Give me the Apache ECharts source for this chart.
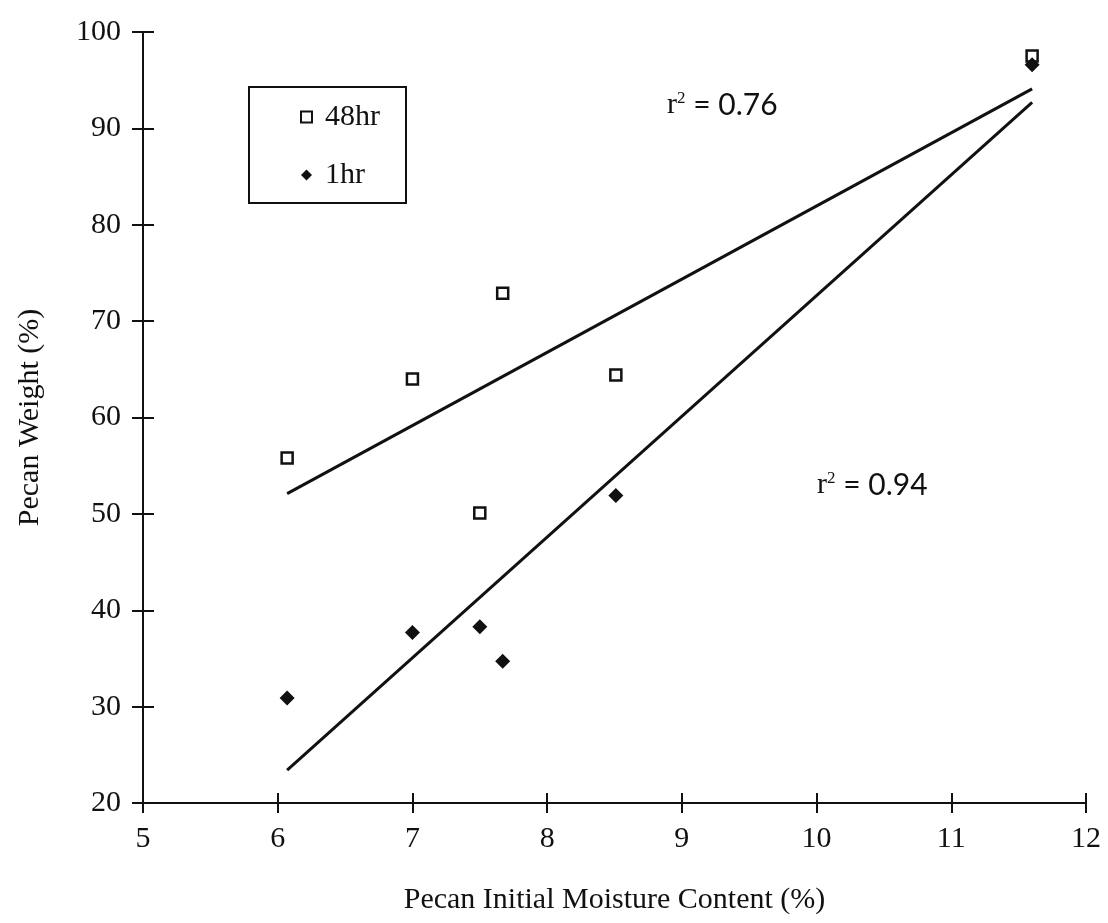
<!DOCTYPE html>
<html>
<head>
<meta charset="utf-8">
<script src="https://cdn.jsdelivr.net/npm/echarts@6/dist/echarts.min.js"></script>
<style>
  html, body { margin: 0; padding: 0; background: #fff; }
  #chart { width: 1108px; height: 923px; }
</style>
</head>
<body>
<div id="chart"></div>
<script>
// Pecan weight vs. initial moisture content
const moisture = [6.07, 7.0, 7.67, 7.5, 8.51, 11.6];
const weight48hr = [55.8, 64.0, 72.9, 50.1, 64.4, 97.5];
const weight1hr = [30.9, 37.7, 34.7, 38.3, 51.9, 96.6];

// Fitted line end points (x, y)
const fit48hr = [[6.07, 52.1], [11.6, 94.1]];
const fit1hr = [[6.07, 23.4], [11.6, 92.7]];

const r2Labels = ['0.76', '0.94'];
const seriesNames = ['48hr', '1hr'];

const serif = 'Liberation Serif, Times New Roman, serif';
const ink = '#111';

function pairs(xs, ys) { return xs.map((x, i) => [x, ys[i]]); }

const chart = echarts.init(document.getElementById('chart'), null, { renderer: 'canvas' });

const xCommon = { type: 'value', min: 5, max: 12, interval: 1, gridIndex: 0, position: 'bottom' };
const yCommon = { type: 'value', min: 20, max: 100, interval: 10, gridIndex: 0, position: 'left' };

function r2Text(val) {
  return '{r|r}{s|2}{e| = ' + val + '}';
}
const r2Rich = {
  r: { fontFamily: serif, fontSize: 30, fill: ink, color: ink },
  s: { fontFamily: serif, fontSize: 17, fill: ink, color: ink, verticalAlign: 'top' },
  e: { fontFamily: 'Lato, Open Sans, sans-serif', fontSize: 30, fill: ink, color: ink }
};

chart.setOption({
  backgroundColor: '#fff',
  animation: false,
  grid: { left: 143, right: 22, top: 32, bottom: 120, containLabel: false },
  xAxis: [
    Object.assign({}, xCommon, {
      name: 'Pecan Initial Moisture Content (%)',
      nameLocation: 'middle',
      nameGap: 82,
      nameTextStyle: { fontFamily: serif, fontSize: 30, color: ink },
      axisLine: { lineStyle: { color: ink, width: 2 } },
      axisTick: { inside: false, length: 10, lineStyle: { color: ink, width: 2 } },
      axisLabel: { margin: 21, fontFamily: serif, fontSize: 30, color: ink },
      splitLine: { show: false }
    }),
    Object.assign({}, xCommon, {
      axisLine: { show: false },
      axisTick: { inside: true, length: 10, lineStyle: { color: ink, width: 2 } },
      axisLabel: { show: false },
      splitLine: { show: false }
    })
  ],
  yAxis: [
    Object.assign({}, yCommon, {
      name: 'Pecan Weight (%)',
      nameLocation: 'middle',
      nameGap: 98,
      nameTextStyle: { fontFamily: serif, fontSize: 30, color: ink },
      axisLine: { lineStyle: { color: ink, width: 2 } },
      axisTick: { inside: false, length: 11, lineStyle: { color: ink, width: 2 } },
      axisLabel: { margin: 22, fontFamily: serif, fontSize: 30, color: ink },
      splitLine: { show: false }
    }),
    Object.assign({}, yCommon, {
      axisLine: { show: false },
      axisTick: { inside: true, length: 11, lineStyle: { color: ink, width: 2 } },
      axisLabel: { show: false },
      splitLine: { show: false }
    })
  ],
  legend: {
    data: seriesNames,
    orient: 'vertical',
    left: 300,
    top: 101,
    padding: 0,
    itemWidth: 11,
    itemHeight: 11,
    itemGap: 26,
    textStyle: { fontFamily: serif, fontSize: 30, color: ink, lineHeight: 32, padding: [0, 0, 0, 8] }
  },
  series: [
    {
      name: seriesNames[0] + ' fit',
      type: 'line',
      data: fit48hr,
      symbol: 'none',
      lineStyle: { color: ink, width: 3 },
      silent: true,
      z: 1
    },
    {
      name: seriesNames[1] + ' fit',
      type: 'line',
      data: fit1hr,
      symbol: 'none',
      lineStyle: { color: ink, width: 3 },
      silent: true,
      z: 1
    },
    {
      name: seriesNames[0],
      type: 'scatter',
      data: pairs(moisture, weight48hr),
      symbol: 'rect',
      symbolSize: 11,
      itemStyle: { color: '#fff', borderColor: ink, borderWidth: 2.5, opacity: 1 },
      z: 3
    },
    {
      name: seriesNames[1],
      type: 'scatter',
      data: pairs(moisture, weight1hr),
      symbol: 'diamond',
      symbolSize: 15,
      itemStyle: { color: ink, opacity: 1 },
      z: 4
    }
  ],
  graphic: [
    {
      type: 'rect',
      shape: { x: 249, y: 87, width: 157, height: 116 },
      style: { fill: 'none', stroke: ink, lineWidth: 2 },
      z: 10
    },
    {
      type: 'text',
      x: 667, y: 105,
      style: { text: r2Text(r2Labels[0]), rich: r2Rich, verticalAlign: 'middle', fill: ink },
      z: 10
    },
    {
      type: 'text',
      x: 817, y: 485,
      style: { text: r2Text(r2Labels[1]), rich: r2Rich, verticalAlign: 'middle', fill: ink },
      z: 10
    }
  ]
});
</script>
</body>
</html>
